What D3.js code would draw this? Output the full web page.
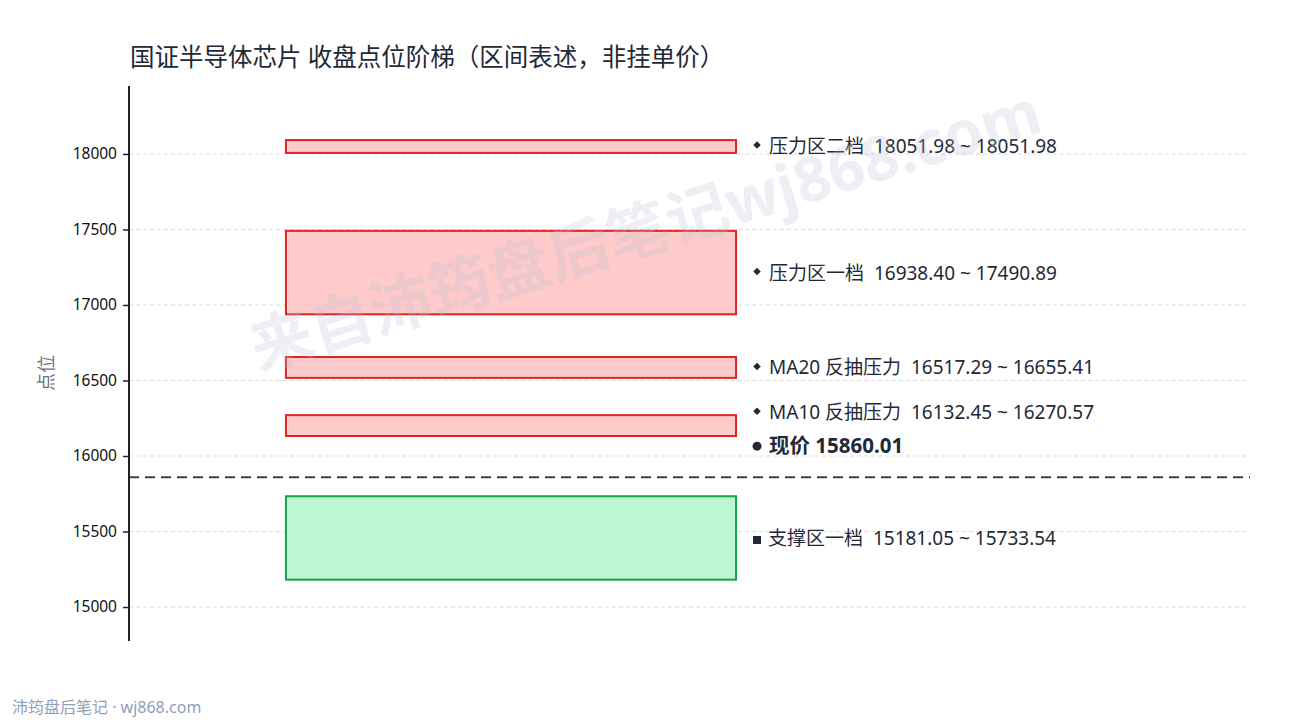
<!DOCTYPE html>
<html>
<head>
<meta charset="utf-8">
<script src="https://cdn.jsdelivr.net/npm/d3@7"></script>
<style>
  html, body { margin: 0; padding: 0; background: #fff; }
  svg { display: block; font-family: "Noto Sans", "Noto Sans CJK SC", sans-serif; }
  text { white-space: pre; }
</style>
</head>
<body>
<svg id="chart" width="1290" height="720"></svg>
<script>
// zones (区间)
const zoneNames = ['压力区二档', '压力区一档', 'MA20 反抽压力', 'MA10 反抽压力', '支撑区一档']
const zoneLow = [18051.98, 16938.40, 16517.29, 16132.45, 15181.05]
const zoneHigh = [18051.98, 17490.89, 16655.41, 16270.57, 15733.54]
const zoneKind = ['resist', 'resist', 'resist', 'resist', 'support']
const currentPrice = 15860.01
const yTicks = [15000, 15500, 16000, 16500, 17000, 17500, 18000]
const yDomain = [14775, 18450]

const width = 1290
const height = 720
const margin = { top: 86, right: 40, bottom: 79, left: 129 }

const svg = d3.select('#chart')

const y = d3.scaleLinear()
  .domain(yDomain)
  .range([height - margin.bottom, margin.top])

const x = d3.scaleLinear()
  .domain([0, 1])
  .range([margin.left, width - margin.right])

const boxX0 = x(0.14)
const boxX1 = x(0.5415)

const colors = {
  resist: { fill: '#fecaca', stroke: '#dc2626' },
  support: { fill: '#bbf7d0', stroke: '#16a34a' },
}

// grid
svg.append('g')
  .attr('id', 'grid')
  .selectAll('line')
  .data(yTicks)
  .join('line')
  .attr('x1', x(0))
  .attr('x2', x(1))
  .attr('y1', (d) => y(d))
  .attr('y2', (d) => y(d))
  .attr('stroke', '#dcdcdc')
  .attr('stroke-width', 1)
  .attr('stroke-dasharray', '4,3')

// zones
const zones = zoneNames.map((name, i) => {
  let lo = zoneLow[i]
  let hi = zoneHigh[i]
  // zero-width zones get a minimum visible span
  if (hi - lo < 80) {
    const mid = (lo + hi) / 2
    lo = mid - 45
    hi = mid + 40
  }
  return { name, low: zoneLow[i], high: zoneHigh[i], drawLo: lo, drawHi: hi, kind: zoneKind[i] }
})

svg.append('g')
  .attr('id', 'zones')
  .selectAll('rect')
  .data(zones)
  .join('rect')
  .attr('x', boxX0)
  .attr('width', boxX1 - boxX0)
  .attr('y', (d) => y(d.drawHi))
  .attr('height', (d) => y(d.drawLo) - y(d.drawHi))
  .attr('fill', (d) => colors[d.kind].fill)
  .attr('stroke', (d) => colors[d.kind].stroke)
  .attr('stroke-width', 2)

// current price line
svg.append('line')
  .attr('x1', x(0))
  .attr('x2', x(1))
  .attr('y1', y(currentPrice))
  .attr('y2', y(currentPrice))
  .attr('stroke', '#374151')
  .attr('stroke-width', 2)
  .attr('stroke-dasharray', '10,6')

// y axis
const yAxis = svg.append('g')
  .attr('transform', `translate(${margin.left},0)`)
  .call(d3.axisLeft(y).tickValues(yTicks).tickSize(6).tickPadding(6).tickFormat(d3.format('d')))
yAxis.select('.domain').attr('stroke', '#222').attr('stroke-width', 2).attr('d', `M0,${y(yDomain[0])}V${y(yDomain[1])}`)
yAxis.selectAll('.tick line').attr('stroke', '#222').attr('stroke-width', 1.5)
yAxis.selectAll('.tick text')
  .attr('font-size', 15.5)
  .attr('fill', '#111')
  .attr('font-family', '"Noto Sans", sans-serif')

// y axis title
svg.append('text')
  .attr('transform', `translate(46,${y(16550)}) rotate(-90)`)
  .attr('text-anchor', 'middle')
  .attr('dominant-baseline', 'central')
  .attr('font-size', 18)
  .attr('fill', '#6b7280')
  .text('点位')

// labels, with simple collision avoidance
const labelX = boxX1 + 21
const textX = boxX1 + 33
const minGap = 33
const priceLabelY = y(currentPrice) - 32

const resist = zones.filter((d) => d.kind === 'resist')
  .map((d) => ({ ...d, ly: y((d.low + d.high) / 2) }))
  .sort((a, b) => b.ly - a.ly)
let lastY = priceLabelY
resist.forEach((d) => {
  if (lastY - d.ly < minGap) d.ly = lastY - minGap
  lastY = d.ly
})
const support = zones.filter((d) => d.kind === 'support')
  .map((d) => ({ ...d, ly: y((d.low + d.high) / 2) }))

const labels = svg.append('g').attr('id', 'labels')
const fmt = d3.format('.2f')

resist.forEach((d) => {
  labels.append('path')
    .attr('d', d3.symbol(d3.symbolDiamond2, 36)())
    .attr('transform', `translate(${labelX},${d.ly - 1})`)
    .attr('fill', '#1f2937')
  labels.append('text')
    .attr('x', textX)
    .attr('y', d.ly)
    .attr('dominant-baseline', 'central')
    .attr('font-size', 19)
    .attr('fill', '#1f2937')
    .text(`${d.name}  ${fmt(d.low)} ~ ${fmt(d.high)}`)
})

support.forEach((d) => {
  labels.append('rect')
    .attr('x', labelX - 4)
    .attr('y', d.ly - 2)
    .attr('width', 8)
    .attr('height', 8)
    .attr('fill', '#1f2937')
  labels.append('text')
    .attr('x', textX - 1)
    .attr('y', d.ly)
    .attr('dominant-baseline', 'central')
    .attr('font-size', 19)
    .attr('fill', '#1f2937')
    .text(`${d.name}  ${fmt(d.low)} ~ ${fmt(d.high)}`)
})

labels.append('circle')
  .attr('cx', labelX)
  .attr('cy', priceLabelY + 1)
  .attr('r', 4.5)
  .attr('fill', '#1f2937')
labels.append('text')
  .attr('x', textX)
  .attr('y', priceLabelY)
  .attr('dominant-baseline', 'central')
  .attr('font-size', 20.5)
  .attr('font-weight', 'bold')
  .attr('fill', '#1f2937')
  .text(`现价 ${fmt(currentPrice)}`)

// title
svg.append('text')
  .attr('x', 130)
  .attr('y', 66)
  .attr('font-size', 24.5)
  .attr('fill', '#1f2937')
  .text('国证半导体芯片 收盘点位阶梯（区间表述，非挂单价）')

// footer
svg.append('text')
  .attr('x', 12)
  .attr('y', 713)
  .attr('font-size', 16)
  .attr('fill', '#8fa0bb')
  .text('沛筠盘后笔记 · wj868.com')

// watermark, drawn on top and translucent
svg.append('text')
  .attr('x', 645)
  .attr('y', 228)
  .attr('text-anchor', 'middle')
  .attr('dominant-baseline', 'central')
  .attr('transform', 'rotate(-17,645,228)')
  .attr('font-size', 62)
  .attr('font-weight', 'bold')
  .attr('fill', '#b8c0d2')
  .attr('fill-opacity', 0.25)
  .text('来自沛筠盘后笔记wj868.com')
</script>
</body>
</html>
